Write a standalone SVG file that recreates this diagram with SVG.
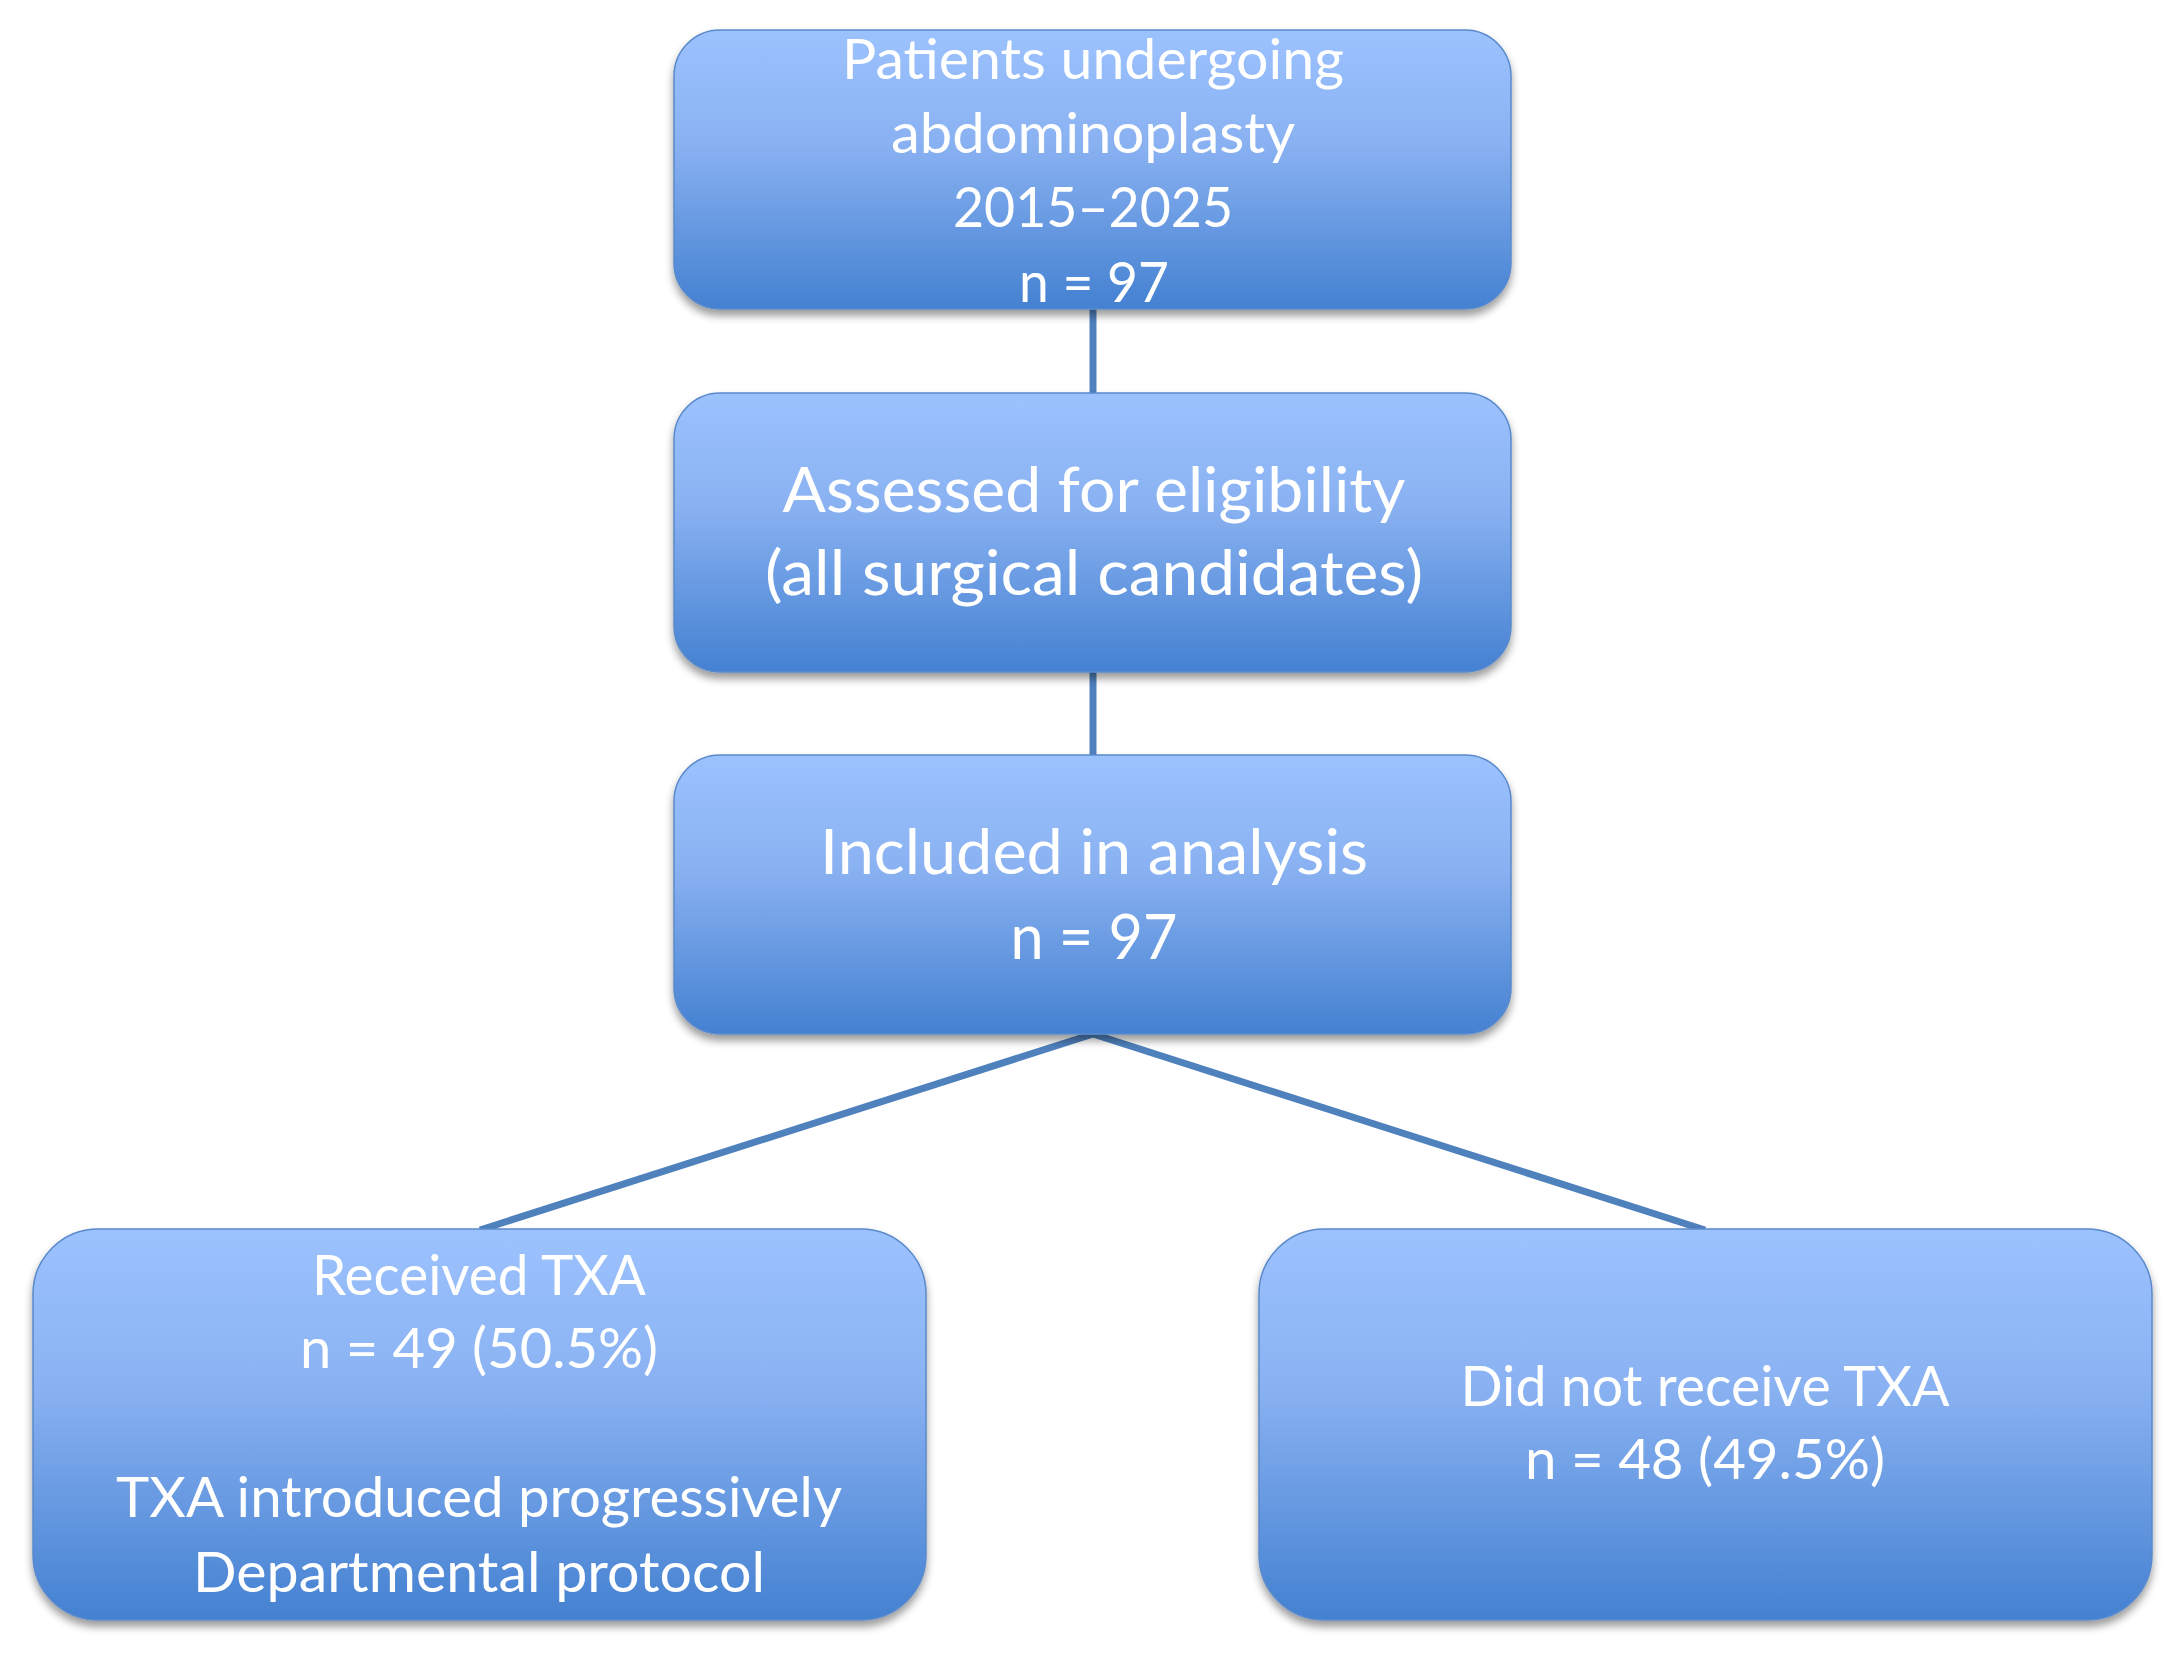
<svg xmlns="http://www.w3.org/2000/svg" width="2184" height="1656" viewBox="0 0 2184 1656">
<defs>
<linearGradient id="g" x1="0" y1="0" x2="0" y2="1">
<stop offset="0" stop-color="#9CC2FE"/>
<stop offset="0.4" stop-color="#8AB2F2"/>
<stop offset="1" stop-color="#4481D1"/>
</linearGradient>
<filter id="sh" x="-5%" y="-5%" width="110%" height="120%">
<feGaussianBlur in="SourceAlpha" stdDeviation="4"/>
<feOffset dx="0" dy="6" result="b"/>
<feComponentTransfer><feFuncA type="linear" slope="0.4"/></feComponentTransfer>
<feMerge><feMergeNode/><feMergeNode in="SourceGraphic"/></feMerge>
</filter>
</defs>
<style>
.box{fill:url(#g);stroke:#5A89CC;stroke-width:1.5;filter:url(#sh)}
.t{font-family:Lato,"Noto Sans",sans-serif;fill:#FFFFFF;text-anchor:middle}
.s{font-size:56px}
.l{font-size:62px}
.m{font-size:56px}
.c{stroke:#4F81BD;stroke-width:7;fill:none}
</style>
<rect width="2184" height="1656" fill="#FFFFFF"/>
<g id="connectors">
<line class="c" x1="1093" y1="308" x2="1093" y2="394"/>
<line class="c" x1="1093" y1="672" x2="1093" y2="756"/>
<line class="c" x1="1093" y1="1034" x2="480" y2="1230"/>
<line class="c" x1="1093" y1="1034" x2="1705" y2="1230"/>
</g>
<g id="node1">
<rect class="box" x="674" y="30" width="837" height="279" rx="46" ry="46"/>
<text class="t s" x="1093" y="79" textLength="502" lengthAdjust="spacingAndGlyphs">Patients undergoing</text>
<text class="t s" x="1093" y="153" textLength="404" lengthAdjust="spacingAndGlyphs">abdominoplasty</text>
<text class="t s" x="1093" y="227" textLength="280" lengthAdjust="spacingAndGlyphs">2015–2025</text>
<text class="t s" x="1094" y="302" textLength="150" lengthAdjust="spacingAndGlyphs">n = 97</text>
</g>
<g id="node2">
<rect class="box" x="674" y="393" width="837" height="279" rx="46" ry="46"/>
<text class="t l" x="1094" y="512" textLength="623" lengthAdjust="spacingAndGlyphs">Assessed for eligibility</text>
<text class="t l" x="1094" y="595" textLength="658" lengthAdjust="spacingAndGlyphs">(all surgical candidates)</text>
</g>
<g id="node3">
<rect class="box" x="674" y="755" width="837" height="279" rx="46" ry="46"/>
<text class="t l" x="1094" y="874" textLength="548" lengthAdjust="spacingAndGlyphs">Included in analysis</text>
<text class="t l" x="1094" y="959" textLength="167" lengthAdjust="spacingAndGlyphs">n = 97</text>
</g>
<g id="node4">
<rect class="box" x="33" y="1229" width="893" height="391" rx="65" ry="65"/>
<text class="t m" x="479" y="1295" textLength="334" lengthAdjust="spacingAndGlyphs">Received TXA</text>
<text class="t m" x="479" y="1368" textLength="358" lengthAdjust="spacingAndGlyphs">n = 49 (50.5%)</text>
<text class="t m" x="479" y="1517" textLength="726" lengthAdjust="spacingAndGlyphs">TXA introduced progressively</text>
<text class="t m" x="479" y="1592" textLength="572" lengthAdjust="spacingAndGlyphs">Departmental protocol</text>
</g>
<g id="node5">
<rect class="box" x="1259" y="1229" width="893" height="391" rx="65" ry="65"/>
<text class="t m" x="1705" y="1406" textLength="489" lengthAdjust="spacingAndGlyphs">Did not receive TXA</text>
<text class="t m" x="1705" y="1479" textLength="360" lengthAdjust="spacingAndGlyphs">n = 48 (49.5%)</text>
</g>
</svg>
